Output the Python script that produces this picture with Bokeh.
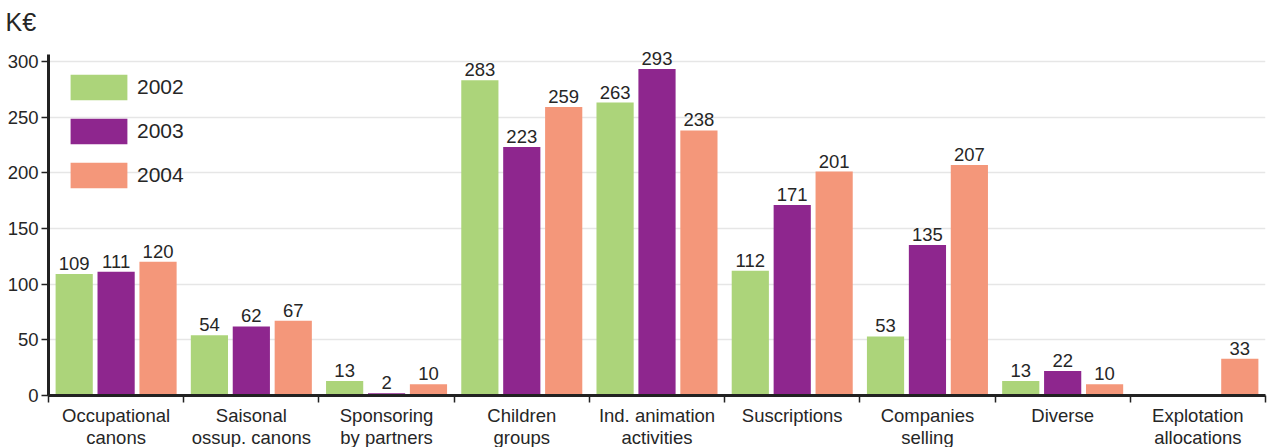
from bokeh.plotting import figure
from bokeh.models import ColumnDataSource, FixedTicker, Legend, LegendItem, Range1d
from bokeh.transform import dodge
from bokeh.core.properties import value
from bokeh.embed import file_html
from bokeh.resources import INLINE

categories = ["Occupational\ncanons", "Saisonal\nossup. canons", "Sponsoring\nby partners",
              "Children\ngroups", "Ind. animation\nactivities", "Suscriptions",
              "Companies\nselling", "Diverse", "Explotation\nallocations"]
years = ["2002", "2003", "2004"]
v2002 = [109, 54, 13, 283, 263, 112, 53, 13, None]
v2003 = [111, 62, 2, 223, 293, 171, 135, 22, None]
v2004 = [120, 67, 10, 259, 238, 201, 207, 10, 33]
colors = ["#acd47a", "#8e268e", "#f4977a"]
y_ticks = [0, 50, 100, 150, 200, 250, 300]
unit_label = "K€"

FONT = "Liberation Sans"
TXT = "#262626"

p = figure(width=1273, height=447, output_backend="svg", toolbar_location=None,
           x_range=Range1d(0, len(categories)), y_range=Range1d(0, 316),
           min_border_left=48, min_border_right=8, min_border_top=43, min_border_bottom=52)
p.frame_width = 1217
p.frame_height = 352

p.title.text = unit_label
p.title.text_font = FONT
p.title.text_font_size = "25px"
p.title.text_font_style = "normal"
p.title.text_color = TXT
p.title.offset = -43
p.title.standoff = 11
p.title.vertical_align = "top"

offsets = [-0.31, 0.0, 0.31]
items = []
for yr, vals, col, off in zip(years, [v2002, v2003, v2004], colors, offsets):
    xs = [i + 0.5 for i, v in enumerate(vals) if v is not None]
    ys = [v for v in vals if v is not None]
    src = ColumnDataSource(dict(x=xs, top=ys, lab=[str(v) for v in ys]))
    r = p.vbar(x=dodge("x", off), top="top", width=0.275, bottom=0, source=src,
               fill_color=col, line_color=None)
    p.text(x=dodge("x", off), y="top", text="lab", source=src, text_align="center",
           text_baseline="bottom", y_offset=-4, text_font=value(FONT),
           text_font_size="18.5px", text_color=TXT)
    items.append(LegendItem(label=yr, renderers=[r]))

legend = Legend(items=items, location="top_left", margin=5, padding=10,
                glyph_width=71, glyph_height=32, spacing=12, label_standoff=3,
                label_text_font=FONT, label_text_font_size="21px", label_text_color=TXT,
                title=" ", title_text_font_size="10px", title_standoff=2,
                border_line_alpha=0, background_fill_alpha=0)
p.add_layout(legend, "center")

# x axis
p.xaxis.ticker = FixedTicker(ticks=[i + 0.5 for i in range(len(categories))],
                             minor_ticks=list(range(len(categories) + 1)))
p.xaxis.major_label_overrides = {i + 0.5: c for i, c in enumerate(categories)}
p.xaxis.major_tick_out = 0
p.xaxis.major_tick_in = 0
p.xaxis.minor_tick_out = 7
p.xaxis.minor_tick_in = 0
p.xaxis.minor_tick_line_color = "#222"
p.xaxis.minor_tick_line_width = 1.5
p.xaxis.axis_line_width = 3
p.xaxis.axis_line_color = "#222"
p.xaxis.major_label_text_font = FONT
p.xaxis.major_label_text_font_size = "18.5px"
p.xaxis.major_label_text_color = TXT
p.xaxis.major_label_text_line_height = 1.05
p.xaxis.major_label_standoff = 2

# y axis
p.yaxis.ticker = FixedTicker(ticks=y_ticks)
p.yaxis.bounds = (0, 306)
p.yaxis.minor_tick_line_color = None
p.yaxis.major_tick_out = 7
p.yaxis.major_tick_in = 0
p.yaxis.major_tick_line_width = 1.5
p.yaxis.major_tick_line_color = "#222"
p.yaxis.axis_line_width = 3
p.yaxis.axis_line_color = "#222"
p.yaxis.major_label_text_font = FONT
p.yaxis.major_label_text_font_size = "18.5px"
p.yaxis.major_label_text_color = TXT
p.yaxis.major_label_standoff = 3

p.xgrid.grid_line_color = None
p.ygrid.grid_line_color = "#e6e6e6"
p.ygrid.grid_line_width = 1.5
p.outline_line_color = None

open("out.html", "w").write(file_html(p, INLINE))
